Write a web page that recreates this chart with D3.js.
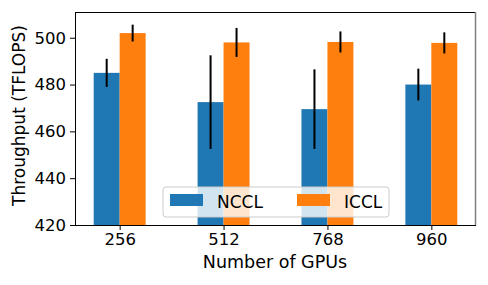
<!DOCTYPE html>
<html>
<head>
<meta charset="utf-8">
<script src="https://cdn.jsdelivr.net/npm/d3@7"></script>
<style>
  html, body { margin: 0; padding: 0; background: #fff; }
  svg { display: block; }
</style>
</head>
<body>
<div id="chart"></div>
<script>
// values
const gpus = ["256", "512", "768", "960"];
const series = ["NCCL", "ICCL"];
const ncclMean = [485, 472.5, 469.5, 480];
const ncclErr  = [6, 20, 17, 6.8];
const icclMean = [502, 498, 498.2, 497.8];
const icclErr  = [3.6, 6.2, 4.5, 4.5];
const yTicks = [420, 440, 460, 480, 500];
const colors = ["#1f77b4", "#ff7f0e"];

const totalW = 488, totalH = 285;
const margin = { top: 12, right: 12, bottom: 60, left: 75 };
const W = totalW - margin.left - margin.right;
const H = totalH - margin.top - margin.bottom;
const FONT = "'DejaVu Sans', sans-serif";

const svg = d3.select("#chart").append("svg")
  .attr("width", totalW).attr("height", totalH);
const g = svg.append("g").attr("transform", `translate(${margin.left},${margin.top})`);

// matplotlib-like linear x: groups at 0..3, bar width 0.25
const x = d3.scaleLinear().domain([-0.43, 3.43]).range([0, W]);
const barW = 0.25;
const y = d3.scaleLinear().domain([420, 511]).range([H, 0]);

const rows = [];
gpus.forEach((k, i) => {
  rows.push({ i, s: 0, v: ncclMean[i], e: ncclErr[i] });
  rows.push({ i, s: 1, v: icclMean[i], e: icclErr[i] });
});

g.selectAll("rect.bar").data(rows).join("rect")
  .attr("class", "bar")
  .attr("x", d => x(d.i + (d.s === 0 ? -barW : 0)))
  .attr("width", x(barW) - x(0))
  .attr("y", d => y(d.v))
  .attr("height", d => H - y(d.v))
  .attr("fill", d => colors[d.s]);

// error bars
g.selectAll("line.err").data(rows).join("line")
  .attr("class", "err")
  .attr("x1", d => x(d.i + (d.s === 0 ? -barW / 2 : barW / 2)))
  .attr("x2", d => x(d.i + (d.s === 0 ? -barW / 2 : barW / 2)))
  .attr("y1", d => y(d.v + d.e)).attr("y2", d => y(d.v - d.e))
  .attr("stroke", "#000").attr("stroke-width", 2);

// axes
const styleAxis = sel => sel
  .call(a => a.select(".domain").remove())
  .call(a => a.selectAll("line").attr("stroke", "#000").attr("stroke-width", 1))
  .call(a => a.selectAll("text").attr("fill", "#000")
    .style("font-family", FONT).style("font-size", "16.5px"));

g.append("g").attr("transform", `translate(0,${H})`)
  .call(d3.axisBottom(x).tickValues(d3.range(gpus.length))
    .tickFormat(i => gpus[i]).tickSize(5).tickPadding(3))
  .call(styleAxis);
g.append("g")
  .call(d3.axisLeft(y).tickValues(yTicks).tickSize(5).tickPadding(4))
  .call(styleAxis);

// spines
g.append("line").attr("x1", 0).attr("x2", W).attr("y1", 0.5).attr("y2", 0.5)
  .attr("stroke", "#000").attr("stroke-width", 1);
g.append("line").attr("x1", W - 0.5).attr("x2", W - 0.5).attr("y1", 0).attr("y2", H)
  .attr("stroke", "#808080").attr("stroke-width", 1.5);
g.append("line").attr("x1", 0.5).attr("x2", 0.5).attr("y1", 0).attr("y2", H)
  .attr("stroke", "#000").attr("stroke-width", 1);
g.append("line").attr("x1", 0).attr("x2", W).attr("y1", H + 0.5).attr("y2", H + 0.5)
  .attr("stroke", "#000").attr("stroke-width", 1);

// axis labels
g.append("text").attr("x", 200).attr("y", H + 43)
  .attr("text-anchor", "middle").attr("fill", "#000")
  .style("font-family", FONT).style("font-size", "17.5px")
  .text("Number of GPUs");
g.append("text").attr("transform", "rotate(-90)").attr("x", -H / 2 + 3).attr("y", -50)
  .attr("text-anchor", "middle").attr("fill", "#000")
  .style("font-family", FONT).style("font-size", "17px")
  .text("Throughput (TFLOPS)");

// legend
const lg = g.append("g").attr("transform", `translate(${163 - margin.left},${187 - margin.top})`);
lg.append("rect").attr("x", 0).attr("y", 0).attr("width", 226).attr("height", 30)
  .attr("rx", 3).attr("fill", "#fff").attr("fill-opacity", 0.8)
  .attr("stroke", "#cccccc").attr("stroke-width", 1);
const items = lg.selectAll("g.item").data(series).join("g")
  .attr("class", "item")
  .attr("transform", (d, i) => `translate(${7 + i * 127},0)`);
items.append("rect").attr("x", 0).attr("y", 7).attr("width", 33).attr("height", 12)
  .attr("fill", (d, i) => colors[i]);
items.append("text").attr("x", 47).attr("y", 21)
  .attr("fill", "#000")
  .style("font-family", FONT).style("font-size", "17px")
  .text(d => d);
</script>
</body>
</html>
